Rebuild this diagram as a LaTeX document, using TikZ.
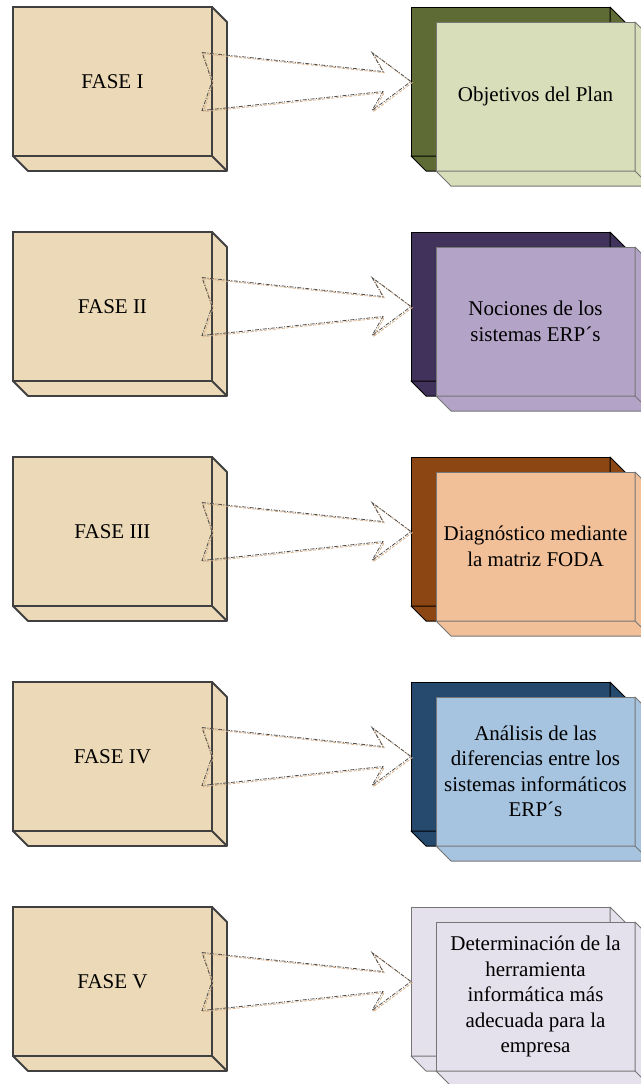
\documentclass[tikz,border=0pt]{standalone}
\usepackage{fontspec}
\setmainfont{Liberation Serif}
\usetikzlibrary{calc,positioning}

\definecolor{arena}{RGB}{235,217,183}
\definecolor{oscuro}{RGB}{64,64,64}
\definecolor{gristapa}{RGB}{118,118,118}
\definecolor{olivaosc}{RGB}{95,107,52}
\definecolor{olivacla}{RGB}{215,222,185}
\definecolor{moradoosc}{RGB}{64,50,90}
\definecolor{moradocla}{RGB}{179,163,199}
\definecolor{cafeosc}{RGB}{140,70,20}
\definecolor{cafecla}{RGB}{242,192,152}
\definecolor{azulosc}{RGB}{38,74,110}
\definecolor{azulcla}{RGB}{166,196,224}
\definecolor{lilacla}{RGB}{228,224,236}
\definecolor{trazo}{RGB}{80,80,80}
\definecolor{trazocla}{RGB}{215,175,135}

% caras laterales de una caja
\newcommand{\caras}[3]{%
  \draw[#3,fill=#2,line join=round] (#1.north east) -- ++(15,-15) -- ++(0,-149)
    -- ++(-199,0) -- (#1.south west) -- (#1.south east) -- cycle;
  \draw[#3] (#1.south east) -- ++(15,-15);
}

% flecha hueca entre dos cajas
\newcommand{\flecha}[3]{%
  \draw[#3] ($(#1.east)+(-10,29)$) -- ($(#2.west)+(-28,10)$) -- ($(#2.west)+(-39,29)$)
    -- (#2.west) -- ($(#2.west)+(-39,-29)$) -- ($(#2.west)+(-28,-10)$)
    -- ($(#1.east)+(-10,-29)$) -- (#1.east) -- cycle;
}

\begin{document}
\begin{tikzpicture}[x=1pt,y=1pt,
	fase/.style={draw=oscuro,line width=1.8pt,fill=arena,minimum width=199pt,minimum height=149pt,
		inner sep=0pt,outer sep=0pt,font=\fontsize{21}{25.5}\selectfont},
	caja/.style={draw=gristapa,line width=1pt,minimum width=199pt,minimum height=149pt,
		inner sep=0pt,outer sep=0pt,align=center,font=\fontsize{21}{25.5}\selectfont},
	linea/.style={draw=trazo,line width=0.8pt,dash pattern=on 4pt off 1.5pt on 1pt off 1.5pt},
	lineacla/.style={draw=trazocla,line width=0.8pt,dash pattern=on 3pt off 1.5pt,
		transform canvas={xshift=1.2pt,yshift=-1.2pt}}]

	\useasboundingbox (0,0) rectangle (640,-1084);

	\foreach \i/\num/\osc/\cla/\borde/\texto in {
		1/I/olivaosc/olivacla/black/{Objetivos del Plan},
		2/II/moradoosc/moradocla/black/{Nociones de los\\sistemas ERP´s},
		3/III/cafeosc/cafecla/black/{Diagnóstico mediante\\la matriz FODA},
		4/IV/azulosc/azulcla/black/{Análisis de las\\diferencias entre los\\sistemas informáticos\\ERP´s},
		5/V/lilacla/lilacla/gristapa/{Determinación de la\\herramienta\\informática más\\adecuada para la\\empresa}}
	{
		\node[fase] (fase\i) at (112.5,{-81.5-225*(\i-1)}) {FASE \num};
		\caras{fase\i}{arena}{oscuro,line width=1.8pt}
		\node[caja,draw=\borde,fill=\osc,right=199pt of fase\i] (base\i) {};
		\caras{base\i}{\osc}{\borde,line width=1pt}
		\node[caja,fill=\cla,below right=15pt and 25pt of base\i.north west] (meta\i) {\texto};
		\caras{meta\i}{\cla}{gristapa,line width=1pt}
		\flecha{fase\i}{base\i}{lineacla}
		\flecha{fase\i}{base\i}{linea}
	}

\end{tikzpicture}
\end{document}
